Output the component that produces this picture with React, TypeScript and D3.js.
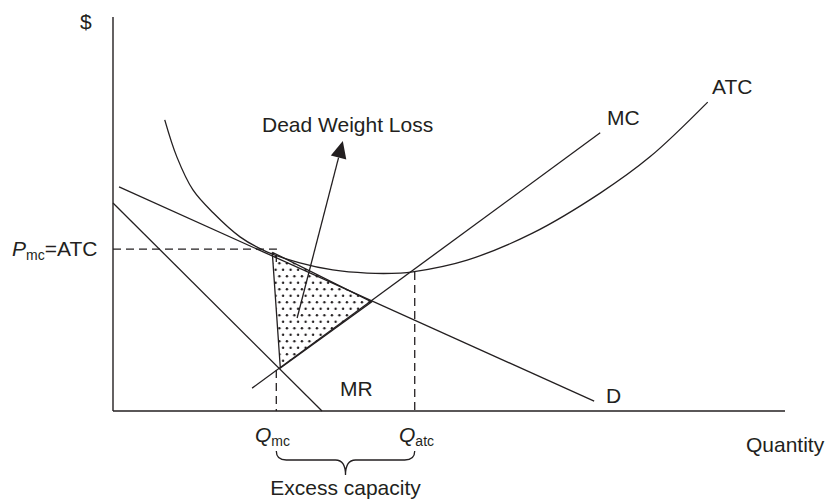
import React from "react";
import * as d3 from "d3";

// Curves in chart units (quantity 0..10, price 0..10)
const demandLine: [number, number][] = [[0.09, 5.69], [7.16, 0.25]];
const mrLine: [number, number][] = [[0.0, 5.28], [3.11, 0.0]];
const mcLine: [number, number][] = [[2.07, 0.58], [7.25, 7.06]];
const atcCurve: [number, number][] = [
  [0.77, 7.39], [0.95, 6.45], [1.19, 5.61], [1.49, 5.03], [1.89, 4.42],
  [2.29, 4.04], [2.78, 3.76], [3.27, 3.58], [3.78, 3.50], [4.27, 3.50],
  [4.46, 3.53], [5.27, 3.83], [6.25, 4.52], [7.25, 5.53], [7.99, 6.45], [8.85, 7.84],
];
const dwlTriangle: [number, number][] = [[2.37, 4.03], [2.49, 1.09], [3.85, 2.77]];
const arrowLine: [number, number][] = [[2.74, 2.36], [3.42, 6.85]];
const pMc = 4.11;
const qMc = 2.43;
const qAtc = 4.49;
const atcAtQatc = 3.53;
const mcAtQmc = 1.04;

const W = 825;
const H = 501;
const INK = "#231f20";
const FONT = "'Liberation Sans', Arial, sans-serif";

export default function App() {
  const x = d3.scaleLinear().domain([0, 10]).range([113, 785]);
  const y = d3.scaleLinear().domain([0, 10]).range([411, 17]);
  const line = d3.line<[number, number]>().x((d) => x(d[0])).y((d) => y(d[1]));
  const curve = d3
    .line<[number, number]>()
    .x((d) => x(d[0]))
    .y((d) => y(d[1]))
    .curve(d3.curveCatmullRom.alpha(0.5));

  // arrow head
  const [a0, a1] = arrowLine;
  const tx = x(a1[0]), ty = y(a1[1]);
  const fx = x(a0[0]), fy = y(a0[1]);
  const len = Math.hypot(tx - fx, ty - fy);
  const ux = (tx - fx) / len, uy = (ty - fy) / len;
  const hl = 17, hw = 8;
  const bx = tx - ux * hl, by = ty - uy * hl;
  const head = `M${tx},${ty} L${bx - uy * hw},${by + ux * hw} L${bx + uy * hw},${by - ux * hw} Z`;

  const xs = x(qMc), xe = x(qAtc), xm = (xs + xe) / 2;
  const braceTop = 451, braceMid = 460, braceTip = 475;
  const brace = `M${xs},${braceTop} Q${xs},${braceMid} ${xs + 10},${braceMid} L${xm - 10},${braceMid} Q${xm},${braceMid} ${xm},${braceTip} Q${xm},${braceMid} ${xm + 10},${braceMid} L${xe - 10},${braceMid} Q${xe},${braceMid} ${xe},${braceTop}`;

  const dash = "8,5";
  const sw = 1.3;

  return (
    <svg
      width={W}
      height={H}
      style={{ position: "absolute", left: 0, top: 0, background: "#fff" }}
      fontFamily={FONT}
    >
      <defs>
        <pattern id="dots" width={7.5} height={13} patternUnits="userSpaceOnUse">
          <circle cx={1.9} cy={3.2} r={1.2} fill={INK} />
          <circle cx={5.6} cy={9.7} r={1.2} fill={INK} />
        </pattern>
      </defs>
      <rect width={W} height={H} fill="#fff" />

      {/* axes */}
      <line x1={x(0)} y1={y(10)} x2={x(0)} y2={y(0)} stroke={INK} strokeWidth={1.4} />
      <line x1={x(0)} y1={y(0)} x2={x(10)} y2={y(0)} stroke={INK} strokeWidth={1.4} />

      {/* dead weight loss triangle */}
      <path d={line(dwlTriangle.concat([dwlTriangle[0]]))!} fill="url(#dots)" stroke={INK} strokeWidth={sw} />

      {/* dashed guides */}
      <path
        d={`M${x(0)},${y(pMc)} L${x(qMc)},${y(pMc)} L${x(qMc)},${y(pMc) + 13}`}
        fill="none"
        stroke={INK}
        strokeWidth={sw}
        strokeDasharray={dash}
      />
      <line x1={x(qMc)} y1={y(mcAtQmc)} x2={x(qMc)} y2={y(0)} stroke={INK} strokeWidth={sw} strokeDasharray={dash} />
      <line x1={x(qAtc)} y1={y(atcAtQatc)} x2={x(qAtc)} y2={y(0)} stroke={INK} strokeWidth={sw} strokeDasharray={dash} />

      {/* curves */}
      <path d={line(demandLine)!} fill="none" stroke={INK} strokeWidth={sw} />
      <path d={line(mrLine)!} fill="none" stroke={INK} strokeWidth={sw} />
      <path d={line(mcLine)!} fill="none" stroke={INK} strokeWidth={sw} />
      <path d={curve(atcCurve)!} fill="none" stroke={INK} strokeWidth={sw} />

      {/* arrow */}
      <line x1={fx} y1={fy} x2={bx} y2={by} stroke={INK} strokeWidth={sw} />
      <path d={head} fill={INK} />

      {/* brace */}
      <path d={brace} fill="none" stroke={INK} strokeWidth={sw} />

      {/* labels */}
      <g fill={INK} fontSize={21}>
        <text x={80} y={29}>$</text>
        <text x={262} y={132}>Dead Weight Loss</text>
        <text x={607} y={125}>MC</text>
        <text x={712} y={94}>ATC</text>
        <text x={606} y={403}>D</text>
        <text x={340} y={396}>MR</text>
        <text x={746} y={452}>Quantity</text>
        <text x={xm} y={495} textAnchor="middle">Excess capacity</text>
        <text x={12} y={256}>
          <tspan fontStyle="italic">P</tspan>
          <tspan fontSize={14} dy={4}>mc</tspan>
          <tspan dy={-4}>=ATC</tspan>
        </text>
        <text x={255} y={442}>
          <tspan fontStyle="italic">Q</tspan>
          <tspan fontSize={14} dy={4}>mc</tspan>
        </text>
        <text x={399} y={442}>
          <tspan fontStyle="italic">Q</tspan>
          <tspan fontSize={14} dy={4}>atc</tspan>
        </text>
      </g>
    </svg>
  );
}
